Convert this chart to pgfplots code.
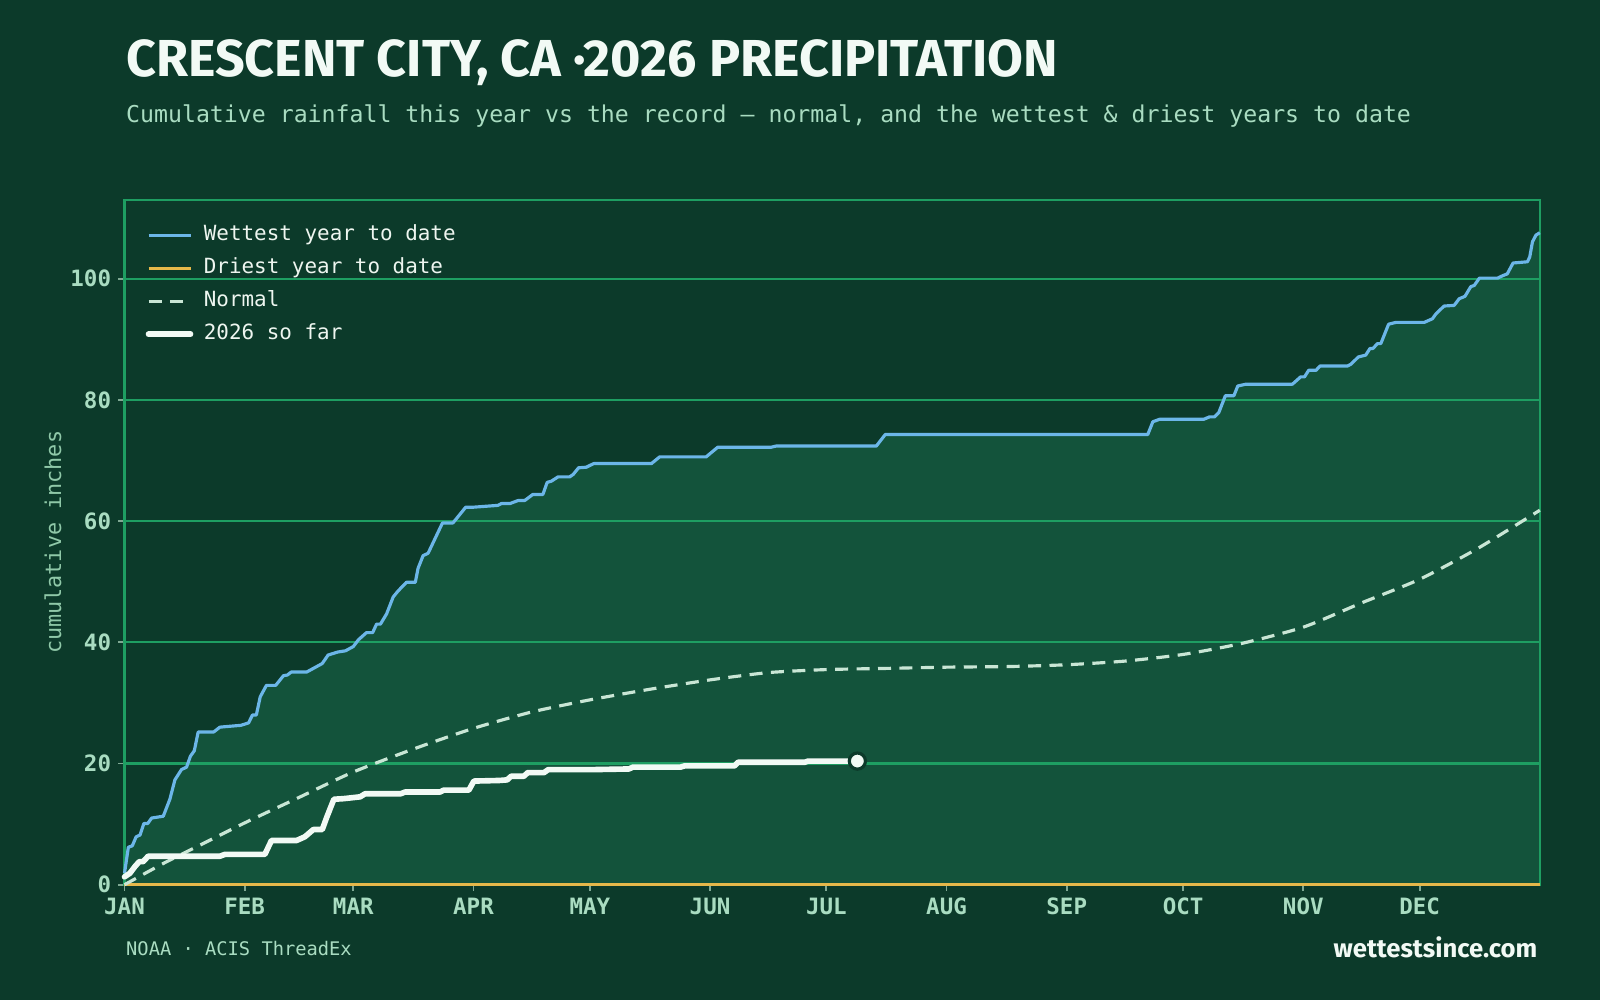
\documentclass[border=0pt]{standalone}
\usepackage{pgfplots}
\pgfplotsset{compat=1.18}
\usepackage{pgfplotstable}
\usepackage{fontspec}
\setmainfont{Fira Sans}
\setmonofont{DejaVu Sans Mono}

\definecolor{pagebg}{HTML}{0C3A2A}
\definecolor{areafill}{HTML}{13533B}
\definecolor{gridgreen}{HTML}{1E9E62}
\definecolor{wetblue}{HTML}{6CB6E8}
\definecolor{drygold}{HTML}{E6B84A}
\definecolor{normalline}{HTML}{C9E6D5}
\definecolor{labelgreen}{HTML}{A9DCC1}
\definecolor{ylabgreen}{HTML}{8FC8A8}
\definecolor{titlewhite}{HTML}{F2FAF5}
\definecolor{legendtext}{HTML}{EEF6F0}
\definecolor{tickgrey}{HTML}{7FA893}

% day of year (0 = 1 Jan) and cumulative inches
\pgfplotstableread{
day value
0 1.9
1 6.2
2 6.4
3 7.9
4 8.2
5 10.1
6 10.1
7 11.0
10 11.3
11.7 14.1
13 17.3
14.7 19.0
16 19.4
17 21.2
18 22.1
19 25.2
23 25.2
24.6 26.0
30 26.3
32 26.7
33 28.0
34 28.0
35 31.0
36.6 32.9
39 32.9
41 34.5
42 34.6
43 35.1
47 35.1
51 36.5
52.5 37.9
55 38.4
57 38.6
59 39.3
60.3 40.4
62.4 41.6
64 41.6
65 43.0
66 43.0
67.6 44.7
69.3 47.5
70.6 48.5
72.7 49.9
75 49.9
75.7 52.2
77 54.3
78.3 54.7
82 59.7
84.7 59.7
88 62.3
90 62.3
96.3 62.6
97.2 62.9
99.4 62.9
101.5 63.4
103.2 63.4
105.3 64.4
107.9 64.4
109 66.4
110.1 66.6
111.8 67.3
114.8 67.3
115.7 67.7
117.1 68.8
119.1 68.9
121 69.5
135.9 69.5
138 70.6
150 70.6
151.3 71.3
153 72.2
166.8 72.2
168.1 72.4
193.9 72.4
196.2 74.3
263.9 74.3
265.2 76.4
266.9 76.8
278.3 76.8
279.8 77.2
281.1 77.2
282.2 77.9
283.9 80.7
286.1 80.7
287.1 82.3
289.2 82.6
301.2 82.6
303.3 83.8
304.3 83.8
305.4 84.9
307.3 84.9
308.3 85.6
315.4 85.6
316.3 85.9
318.2 87.1
320.1 87.4
321.2 88.5
322 88.5
323.1 89.3
324 89.3
326 92.5
327.9 92.8
335.2 92.8
337.3 93.4
338.2 94.2
340.3 95.5
342.9 95.6
344.2 96.7
345.7 97.1
347.2 98.7
348.1 98.9
349.4 100.1
354.1 100.1
355.4 100.5
356.6 100.8
358.1 102.6
361.8 102.8
362.4 103.6
363.1 106.1
364 107.2
365 107.6
}\tabwet

\pgfplotstableread{
day value
0 0
365 0
}\tabdry

\pgfplotstableread{
day value
0 0
10 3.5
20 6.7
31 10.2
45 14.4
59 18.6
75 22.5
90 25.8
105 28.5
120 30.5
135 32.2
151 33.8
166 35.0
181 35.5
197 35.7
212 35.9
228 36.0
243 36.3
258 36.9
273 38.0
288 39.8
304 42.5
319 46.5
334 50.4
349 55.5
365 61.8
}\tabnorm

\pgfplotstableread{
day value
0 1.3
1.4 1.9
2.7 3.0
3.8 3.8
4.8 3.8
6.1 4.7
24.6 4.7
25.9 5.0
36.2 5.0
37.9 7.3
44.4 7.3
46.5 7.9
48.7 9.1
51 9.1
52.2 11.2
54 14.1
56.5 14.2
60.8 14.5
62 15.0
71.2 15.0
72.4 15.3
81.4 15.3
82.3 15.6
88.8 15.6
90.1 17.1
96.7 17.2
98.7 17.3
99.7 17.9
103 17.9
104 18.5
108.2 18.5
109.3 19.0
121.5 19.0
130.1 19.1
131.1 19.4
143.4 19.4
144.4 19.6
157.3 19.6
158.2 20.2
175.4 20.2
176.3 20.4
189 20.4
}\tabnow

\pgfplotstableread{
day value
189 20.4
}\tablast

\pgfplotsset{
  rainframe/.style={
    at={(1.245cm,1.153cm)}, anchor=south west,
    scale only axis,
    width=14.153cm, height=6.847cm,
    xmin=0, xmax=365, ymin=0, ymax=113,
  },
}

\begin{document}
\begin{tikzpicture}[x=1cm,y=1cm]
\fill[pagebg] (0,0) rectangle (16,10);
\useasboundingbox (0,0) rectangle (16,10);

% heading
\node[anchor=base west, inner sep=0pt, text=titlewhite,
      font=\fontsize{14.8}{16}\selectfont\bfseries]
  at (1.255,9.235) {CRESCENT CITY, CA ·2026 PRECIPITATION};
\node[anchor=base west, inner sep=0pt, text=labelgreen,
      font=\fontsize{6.6}{8}\selectfont\ttfamily]
  at (1.255,8.776) {Cumulative rainfall this year vs the record — normal, and the wettest \& driest years to date};

% footer
\node[anchor=base west, inner sep=0pt, text=labelgreen,
      font=\fontsize{5.33}{7}\selectfont\ttfamily]
  at (1.255,0.44) {NOAA · ACIS ThreadEx};
\node[anchor=base east, inner sep=0pt, text=titlewhite,
      font=\fontsize{7.3}{9}\selectfont\bfseries]
  at (15.38,0.42) {wettestsince.com};

% shaded band up to the wettest year on record, beneath the grid
\begin{axis}[rainframe, hide axis]
\addplot[fill=areafill, draw=none]
  table[x=day, y=value] {\tabwet} \closedcycle;
\end{axis}

\begin{axis}[
  rainframe,
  clip=false,
  axis line style={draw=gridgreen, line width=0.6pt},
  xtick={0,31,59,90,120,151,181,212,243,273,304,334},
  xticklabels={JAN,FEB,MAR,APR,MAY,JUN,JUL,AUG,SEP,OCT,NOV,DEC},
  ytick={0,20,40,60,80,100},
  yticklabels={0,20,40,60,80,100},
  xtick pos=bottom, ytick pos=left,
  tick align=outside,
  major tick length=0.06cm,
  tick style={draw=tickgrey, line width=0.5pt},
  ymajorgrids,
  grid style={draw=gridgreen, line width=0.6pt},
  ticklabel style={text=labelgreen, font=\fontsize{6.4}{7.5}\selectfont\ttfamily\bfseries},
  xticklabel style={yshift=0.05cm},
  yticklabel style={xshift=0.05cm},
  ylabel={cumulative inches},
  ylabel style={at={(axis description cs:-0.0505,0.5)}, anchor=center,
                text=ylabgreen, font=\fontsize{6.2}{7.5}\selectfont\ttfamily},
  legend cell align=left,
  legend style={draw=none, fill=none, text=legendtext,
                font=\fontsize{5.95}{7}\selectfont\ttfamily,
                at={(axis description cs:0.0145,0.97)}, anchor=north west,
                inner sep=0pt, row sep=1.35pt,
                nodes={inner sep=1pt},
                /tikz/every odd column/.append style={column sep=0.07cm}},
  legend image code/.code={\draw[#1] (0cm,0cm) -- (0.42cm,0cm);},
]
\addplot[wetblue, line width=0.9pt, line join=round]
  table[x=day, y=value] {\tabwet};
\addlegendentry{Wettest year to date}

\addplot[drygold, line width=0.9pt]
  table[x=day, y=value] {\tabdry};
\addlegendentry{Driest year to date}

\addplot[normalline, line width=0.9pt, dash pattern=on 3.7pt off 2.4pt, smooth, tension=0.4]
  table[x=day, y=value] {\tabnorm};
\addlegendentry{Normal}

\addplot[titlewhite, line width=1.6pt, line join=round, line cap=round]
  table[x=day, y=value] {\tabnow};
\addlegendentry{2026 so far}

\addplot[only marks, mark=*, mark size=2.3pt,
         mark options={fill=titlewhite, draw=pagebg, line width=0.9pt}, forget plot]
  table[x=day, y=value] {\tablast};
\end{axis}
\end{tikzpicture}
\end{document}
